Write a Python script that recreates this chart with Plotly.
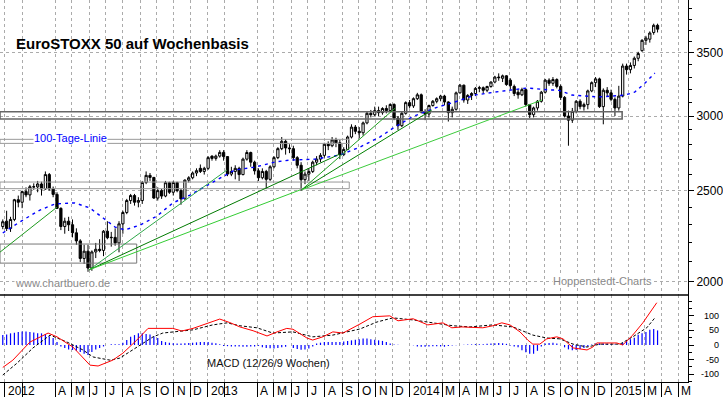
import numpy as np
import pandas as pd
import plotly.graph_objects as go

# ---------------- data (weekly candles, week 0 = week of 26 Dec 2011) ----------------
start = pd.Timestamp("2011-12-28")

opens = [2290, 2320, 2279, 2330, 2445, 2430, 2494, 2474, 2524, 2523,
         2541, 2510, 2600, 2510, 2477, 2394, 2290, 2320, 2300, 2255,
         2211, 2118, 2156, 2069, 2152, 2166, 2160, 2264, 2228, 2230,
         2200, 2305, 2370, 2440, 2470, 2430, 2440, 2550, 2595, 2582,
         2455, 2500, 2467, 2549, 2490, 2550, 2500, 2450, 2565, 2580,
         2610, 2640, 2620, 2640, 2720, 2705, 2720, 2745, 2717, 2603,
         2620, 2640, 2600, 2700, 2744, 2680, 2624, 2580, 2620, 2570,
         2650, 2710, 2770, 2820, 2775, 2770, 2710, 2660, 2568, 2603,
         2620, 2680, 2700, 2725, 2800, 2790, 2830, 2810, 2730, 2765,
         2850, 2920, 2890, 2880, 2950, 3020, 3010, 3040, 3025, 3056,
         3040, 3086, 2985, 2930, 3020, 3100, 3075, 3130, 3160, 3030,
         3015, 3078, 3110, 3130, 3150, 3105, 3025, 3050, 3175, 3235,
         3120, 3155, 3170, 3210, 3215, 3195, 3225, 3260, 3300, 3290,
         3310, 3275, 3225, 3180, 3160, 3200, 3085, 3010, 3060, 3110,
         3180, 3275, 3250, 3280, 3225, 3140, 3000, 2970, 3035, 3110,
         3070, 3085, 3190, 3255, 3285, 3070, 3195, 3175, 3125, 3060,
         3150, 3390, 3360, 3395, 3455, 3520, 3610, 3620, 3680, 3745]
highs = [2330, 2380, 2345, 2450, 2470, 2500, 2520, 2535, 2545, 2560,
         2555, 2620, 2610, 2525, 2490, 2400, 2340, 2345, 2330, 2280,
         2220, 2190, 2190, 2160, 2200, 2220, 2270, 2320, 2260, 2280,
         2320, 2380, 2450, 2480, 2480, 2460, 2560, 2620, 2610, 2585,
         2520, 2510, 2560, 2555, 2560, 2555, 2510, 2570, 2590, 2620,
         2640, 2665, 2650, 2720, 2725, 2730, 2760, 2760, 2720, 2650,
         2660, 2650, 2710, 2760, 2750, 2690, 2640, 2640, 2630, 2660,
         2720, 2780, 2850, 2835, 2800, 2790, 2720, 2680, 2620, 2640,
         2690, 2720, 2740, 2810, 2820, 2850, 2845, 2830, 2780, 2860,
         2940, 2935, 2920, 2960, 3030, 3045, 3070, 3070, 3065, 3080,
         3095, 3095, 3000, 3030, 3110, 3120, 3140, 3175, 3170, 3050,
         3085, 3120, 3140, 3160, 3160, 3110, 3070, 3185, 3245, 3240,
         3165, 3180, 3220, 3230, 3225, 3230, 3265, 3310, 3330, 3320,
         3315, 3290, 3240, 3200, 3215, 3210, 3090, 3070, 3120, 3190,
         3285, 3290, 3300, 3290, 3240, 3150, 3040, 3060, 3120, 3125,
         3100, 3200, 3265, 3300, 3295, 3210, 3220, 3200, 3140, 3230,
         3410, 3410, 3420, 3470, 3510, 3620, 3650, 3690, 3760, 3760]
lows = [2275, 2265, 2260, 2320, 2400, 2395, 2460, 2440, 2505, 2490,
        2470, 2505, 2500, 2460, 2390, 2270, 2250, 2265, 2230, 2190,
        2100, 2090, 2050, 2055, 2120, 2150, 2130, 2220, 2180, 2185,
        2150, 2250, 2360, 2420, 2410, 2400, 2420, 2540, 2560, 2450,
        2440, 2450, 2460, 2480, 2470, 2490, 2415, 2445, 2550, 2570,
        2590, 2610, 2600, 2630, 2690, 2690, 2710, 2690, 2590, 2590,
        2570, 2560, 2595, 2690, 2650, 2600, 2560, 2570, 2510, 2560,
        2640, 2700, 2760, 2730, 2740, 2690, 2640, 2500, 2540, 2560,
        2610, 2660, 2680, 2710, 2760, 2780, 2780, 2700, 2720, 2760,
        2840, 2870, 2840, 2860, 2940, 2990, 3000, 3000, 3010, 3020,
        3030, 2970, 2900, 2920, 3010, 3060, 3060, 3120, 3020, 2970,
        2990, 3070, 3095, 3110, 3080, 2960, 2990, 3040, 3170, 3100,
        3090, 3120, 3150, 3180, 3170, 3180, 3215, 3250, 3270, 3260,
        3230, 3200, 3150, 3130, 3150, 3070, 2985, 2990, 3040, 3100,
        3170, 3230, 3230, 3210, 3120, 2990, 2790, 2950, 3020, 3050,
        3040, 3050, 3180, 3220, 3060, 2940, 3150, 3110, 3000, 3040,
        3140, 3320, 3330, 3370, 3430, 3510, 3570, 3590, 3660, 3680]
closes = [2317, 2279, 2330, 2445, 2430, 2494, 2474, 2524, 2523, 2541,
          2510, 2600, 2510, 2477, 2394, 2290, 2320, 2300, 2255, 2211,
          2118, 2156, 2069, 2152, 2166, 2160, 2264, 2228, 2230, 2200,
          2305, 2370, 2440, 2470, 2430, 2440, 2550, 2595, 2582, 2455,
          2500, 2467, 2549, 2490, 2550, 2500, 2450, 2565, 2580, 2610,
          2625, 2620, 2640, 2710, 2705, 2720, 2745, 2717, 2603, 2620,
          2640, 2600, 2700, 2744, 2680, 2624, 2580, 2620, 2570, 2650,
          2710, 2770, 2820, 2775, 2770, 2710, 2660, 2568, 2603, 2620,
          2680, 2700, 2725, 2800, 2790, 2830, 2810, 2730, 2765, 2850,
          2920, 2890, 2880, 2950, 3020, 3010, 3040, 3025, 3056, 3040,
          3086, 2985, 2930, 3020, 3100, 3075, 3130, 3160, 3030, 3015,
          3078, 3110, 3130, 3150, 3105, 3025, 3050, 3175, 3235, 3120,
          3155, 3170, 3210, 3215, 3195, 3225, 3260, 3300, 3295, 3310,
          3240, 3232, 3170, 3160, 3200, 3085, 3010, 3060, 3110, 3180,
          3275, 3250, 3280, 3225, 3140, 3000, 2970, 3035, 3110, 3070,
          3085, 3190, 3255, 3285, 3070, 3195, 3175, 3125, 3060, 3150,
          3390, 3360, 3395, 3455, 3495, 3610, 3630, 3675, 3745, 3710]

# 100-day line (read at sample weeks)
ma_week = [0, 4.4, 9.6, 13.5, 18.6, 22.5, 25.9, 29.0, 31.5, 35.4, 39.8, 43.9, 48.3,
           52.2, 54.8, 59.9, 65.1, 70.2, 74.1, 80.6, 87.0, 92.2, 97.3, 101.2, 105.6,
           108.9, 112.3, 116.7, 121.9, 127.0, 131.4, 135.5, 141.2, 143.3, 146.9,
           150.2, 153.6, 157.2, 160.6, 163.1, 165.7, 168.3]
ma_value = [2254, 2316, 2384, 2420, 2426, 2396, 2338, 2287, 2271, 2298, 2349, 2426, 2473,
            2528, 2560, 2629, 2648, 2681, 2694, 2700, 2727, 2781, 2850, 2921, 2993,
            3030, 3067, 3105, 3158, 3181, 3197, 3213, 3197, 3197, 3158,
            3150, 3143, 3150, 3158, 3181, 3250, 3332]

# MACD line (red) and signal (black dashed)
macd_week = [0, 2.6, 7.0, 11.7, 14.0, 18.1, 22.5, 24.6, 28.4, 31.0, 34.6, 37.5, 43.9,
             46.2, 49.1, 52.9, 56.0, 58.6, 61.2, 64.6, 68.2, 70.8, 73.3, 74.9, 78.5,
             80.0, 82.6, 85.2, 87.8, 92.2, 95.5, 99.9, 102.0, 105.9, 109.7, 113.6,
             115.9, 118.5, 123.9, 126.5, 128.8, 130.9, 133.5, 135.5, 136.8, 138.6,
             140.4, 143.0, 144.6, 147.2, 150.8, 152.3, 153.3, 155.9, 158.5, 160.0,
             162.6, 165.2, 167.8, 168.8]
macd_value = [-77, -52, 10, 41, 28, -7, -69, -72, -52, -28, 17, 57, 57,
              48, 57, 75, 89, 77, 62, 49, 31, 45, 57, 54, 24,
              17, 28, 45, 41, 72, 97, 100, 83, 90, 69, 76,
              59, 62, 59, 66, 76, 69, 45, 17, 3, 3,
              21, 28, 21, -10, -17, -7, 7, 7, 7, 0,
              34, 76, 128, 145]
sig_week = [0, 3.7, 7.8, 12.2, 16.6, 20.7, 23.3, 27.7, 30.2, 34.6, 38.8, 41.3, 49.1,
            54.2, 57.9, 61.2, 65.6, 69.7, 74.9, 80.0, 85.2, 92.2, 96.6, 100.7, 105.9,
            111.0, 116.2, 120.6, 126.5, 131.7, 136.8, 140.4, 143.8, 147.2, 150.8,
            154.1, 159.3, 162.6, 166.2, 168.3]
sig_value = [-103, -62, -10, 34, 10, -17, -41, -52, -45, -7, 28, 41, 52,
             69, 76, 66, 59, 41, 45, 28, 34, 55, 79, 93, 86,
             76, 66, 62, 69, 62, 34, 24, 21, 3, -7,
             3, 3, 28, 59, 93]
# MACD histogram (one bar per week)
hist = [34, 36, 40, 42, 45, 46, 46, 45, 43, 40,
        40, 38, 30, 24, 10, -5, -10, -15, -17, -20,
        -24, -30, -34, -24, -15, -10, -5, 0, 3, 3,
        3, 8, 17, 28, 34, 40, 40, 38, 36, 30,
        24, 14, 10, 8, 6, 5, 5, 6, 7, 8,
        9, 10, 10, 10, 8, 6, 3, -3, -4, -5,
        -5, -5, -6, -6, -5, -5, -3, -8, -10, -11,
        -12, -10, -8, -6, 0, -10, -14, -16, -15, -12,
        -5, 5, 8, 10, 10, 10, 10, 10, 12, 14,
        16, 18, 20, 22, 22, 20, 18, 16, 14, 10,
        5, 2, 1, 0, 0, 0, -1, -5, -6, -6,
        -5, -4, -4, -5, -6, -3, -2, -1, 0, 1,
        2, 2, 3, 3, 3, 4, 5, 6, 7, 6,
        4, -2, -5, -8, -18, -25, -30, -30, -20, -5,
        5, 7, 8, 5, 0, -8, -15, -18, -17, -14,
        -10, -5, 2, 5, 6, 5, 4, 3, 2, 0,
        8, 15, 20, 25, 35, 40, 45, 52, 55, 50]

# trend lines (start/end date and price)
trend_start_date = ["2011-12-23", "2012-06-01", "2012-06-01", "2012-06-01",
                    "2013-06-20", "2013-06-20", "2013-06-20"]
trend_start_price = [2151, 2060, 2060, 2060, 2505, 2505, 2505]
trend_end_date = ["2012-04-04", "2013-02-05", "2013-08-28", "2013-06-17",
                  "2013-12-06", "2014-02-10", "2014-08-28"]
trend_end_price = [2401, 2629, 2734, 2504, 3059, 3044, 3120]
trend_color = ["#1E9A1E", "#2EA84A", "#007A00", "#33CC33", "#22A022", "#008000", "#3CCB3C"]

# horizontal zones (rectangles)
box_start = ["2011-12-23", "2011-12-23", "2011-12-23", "2011-12-23"]
box_end = ["2012-08-26", "2015-01-20", "2013-09-14", "2013-09-14"]
box_low = [2094, 2978, 2512, 2806]
box_high = [2194, 3032, 2553, 2834]
box_width = [1, 1.6, 1, 1]
box_color = ["#777777", "#666666", "#999999", "#999999"]

# axis ticks / labels
label_months = ["2012-01-01", "2012-04-01", "2012-05-01", "2012-06-01", "2012-07-01",
                "2012-08-01", "2012-09-01", "2012-10-01", "2012-11-01", "2012-12-01",
                "2013-01-01", "2013-04-01", "2013-05-01", "2013-06-01", "2013-07-01",
                "2013-08-01", "2013-09-01", "2013-10-01", "2013-11-01", "2013-12-01",
                "2014-01-01", "2014-03-01", "2014-04-01", "2014-05-01", "2014-06-01",
                "2014-07-01", "2014-08-01", "2014-09-01", "2014-10-01", "2014-11-01",
                "2014-12-01", "2015-01-01", "2015-03-01", "2015-04-01", "2015-05-01"]
label_text = ["2012", "A", "M", "J", "J", "A", "S", "O", "N", "D",
              "2013", "A", "M", "J", "J", "A", "S", "O", "N", "D",
              "2014", "M", "A", "M", "J", "J", "A", "S", "O", "N", "D",
              "2015", "M", "A", "M"]
extra_tick_months = ["2012-02-01", "2013-02-01"]
grid_only_months = ["2014-02-01", "2015-02-01"]
price_ticks = [2000, 2500, 3000, 3500]
price_minor = [2100, 2200, 2300, 2400, 2600, 2700, 2800, 2900, 3100, 3200, 3300,
               3400, 3600, 3700, 3800, 3900]
macd_ticks = [-100, -50, 0, 50, 100]
macd_minor = [-125, -75, -25, 25, 75, 125, 150]

X_RANGE = ["2011-12-23", "2015-05-19"]
PRICE_RANGE = [1937, 3984]
MACD_RANGE = [-126.9, 171.5]
SPLIT = 87 / 382.0

# ---------------- figure ----------------
n = len(closes)
weeks = start + pd.to_timedelta(np.arange(n) * 7, unit="D")


def wk(pos):
    return start + pd.to_timedelta(np.asarray(pos, dtype=float) * 7, unit="D")


GRID = "#ABABAB"
fig = go.Figure()

for i in range(len(box_start)):
    fig.add_trace(go.Scatter(
        x=[box_start[i], box_end[i], box_end[i], box_start[i], box_start[i]],
        y=[box_low[i], box_low[i], box_high[i], box_high[i], box_low[i]],
        mode="lines", line=dict(color=box_color[i], width=box_width[i]),
        hoverinfo="skip", xaxis="x", yaxis="y"))

fig.add_trace(go.Scatter(x=wk(ma_week), y=ma_value, mode="lines",
                         line=dict(color="#0000FF", width=1.4, dash="3px,4px"),
                         hoverinfo="skip", xaxis="x", yaxis="y"))

fig.add_trace(go.Candlestick(
    x=weeks, open=opens, high=highs, low=lows, close=closes,
    increasing=dict(line=dict(color="black", width=1), fillcolor="white"),
    decreasing=dict(line=dict(color="black", width=1), fillcolor="black"),
    whiskerwidth=0, hoverinfo="skip", xaxis="x", yaxis="y"))

for i in range(len(trend_start_date)):
    fig.add_trace(go.Scatter(
        x=[trend_start_date[i], trend_end_date[i]],
        y=[trend_start_price[i], trend_end_price[i]],
        mode="lines", line=dict(color=trend_color[i], width=1),
        hoverinfo="skip", xaxis="x", yaxis="y"))

# histogram as thin vertical strokes, one per week
hx, hy = [], []
for d, v in zip(weeks, hist):
    hx += [d, d, None]
    hy += [0, v, None]
fig.add_trace(go.Scatter(x=hx, y=hy, mode="lines",
                         line=dict(color="#0000FF", width=1.2),
                         hoverinfo="skip", xaxis="x", yaxis="y2"))
fig.add_trace(go.Scatter(x=wk(sig_week), y=sig_value, mode="lines",
                         line=dict(color="black", width=1, dash="3px,2px"),
                         hoverinfo="skip", xaxis="x", yaxis="y2"))
fig.add_trace(go.Scatter(x=wk(macd_week), y=macd_value, mode="lines",
                         line=dict(color="#FF0000", width=1),
                         hoverinfo="skip", xaxis="x", yaxis="y2"))

tick_months = sorted(label_months + extra_tick_months)

fig.update_layout(
    width=723, height=397,
    margin=dict(l=0, r=35, t=0, b=15, autoexpand=False),
    paper_bgcolor="white", plot_bgcolor="white",
    showlegend=False, hovermode=False, boxgap=0.18,
    font=dict(family="Arial, Liberation Sans, sans-serif", size=12, color="black"),
    xaxis=dict(
        type="date", range=X_RANGE, anchor="y2",
        showline=True, linecolor="black", linewidth=1,
        ticks="outside", ticklen=15, tickcolor="black", tickwidth=1,
        tickvals=tick_months, ticktext=[""] * len(tick_months),
        showgrid=True, gridcolor=GRID, griddash="3px,3px", gridwidth=1,
        minor=dict(tickvals=grid_only_months, showgrid=True, gridcolor=GRID,
                   griddash="3px,3px", ticks=""),
        zeroline=False, rangeslider=dict(visible=False), fixedrange=True,
        automargin=False,
    ),
    yaxis=dict(
        type="log", domain=[SPLIT, 1],
        range=[np.log10(PRICE_RANGE[0]), np.log10(PRICE_RANGE[1])],
        side="right", anchor="x",
        showline=True, linecolor="black", linewidth=1,
        ticks="outside", ticklen=5, tickcolor="black",
        tickvals=price_ticks, ticktext=[str(v) for v in price_ticks],
        tickfont=dict(size=12, color="black"),
        showgrid=True, gridcolor=GRID, griddash="3px,3px", gridwidth=1,
        minor=dict(tickvals=price_minor, ticks="outside", ticklen=3,
                   tickcolor="black", showgrid=False),
        zeroline=False, fixedrange=True, automargin=False,
    ),
    yaxis2=dict(
        domain=[0, SPLIT], range=MACD_RANGE,
        side="right", anchor="x",
        showline=True, linecolor="black", linewidth=1,
        ticks="outside", ticklen=5, tickcolor="black",
        tickvals=macd_ticks, showticklabels=False,
        minor=dict(tickvals=macd_minor, ticks="outside", ticklen=3,
                   tickcolor="black", showgrid=False),
        showgrid=False, zeroline=False, fixedrange=True, automargin=False,
    ),
)

# separator between panels
fig.add_shape(type="line", xref="paper", yref="paper", x0=0, x1=1, y0=SPLIT, y1=SPLIT,
              line=dict(color="black", width=1.5))

# month labels, left aligned after their tick
for d, t in zip(label_months, label_text):
    fig.add_annotation(x=d, xref="x", y=0, yref="paper", text=t, showarrow=False,
                       xanchor="left", yanchor="top", xshift=1, yshift=0,
                       font=dict(size=12, color="black"))

# MACD axis labels, right aligned
for v in macd_ticks:
    fig.add_annotation(x=1, xref="paper", xshift=33, y=v, yref="y2", text=str(v),
                       showarrow=False, xanchor="right", yanchor="middle",
                       font=dict(size=9, color="black"))

texts = [
    ("EuroSTOXX 50 auf Wochenbasis", 15, 43, 15, "black", True, "rgba(0,0,0,0)"),
    ("100-Tage-Linie", 33, 138, 11, "#0000FF", False, "white"),
    ("www.chartbuero.de", 14, 283, 11, "#888888", False, "white"),
    ("Hoppenstedt-Charts", 552, 281, 11, "#888888", False, "white"),
    ("MACD (12/26/9 Wochen)", 206, 363, 11, "#111111", False, "rgba(0,0,0,0)"),
]
for txt, px, py, size, col, bold, bg in texts:
    fig.add_annotation(x=px / 688.0, xref="paper", y=1 - py / 382.0, yref="paper",
                       text=("<b>%s</b>" % txt) if bold else txt, showarrow=False,
                       xanchor="left", yanchor="middle", bgcolor=bg, borderpad=0,
                       font=dict(size=size, color=col))

fig.write_html("out.html", config={"displayModeBar": False},
               post_script="document.body.style.margin='0';document.body.style.overflow='hidden';")
